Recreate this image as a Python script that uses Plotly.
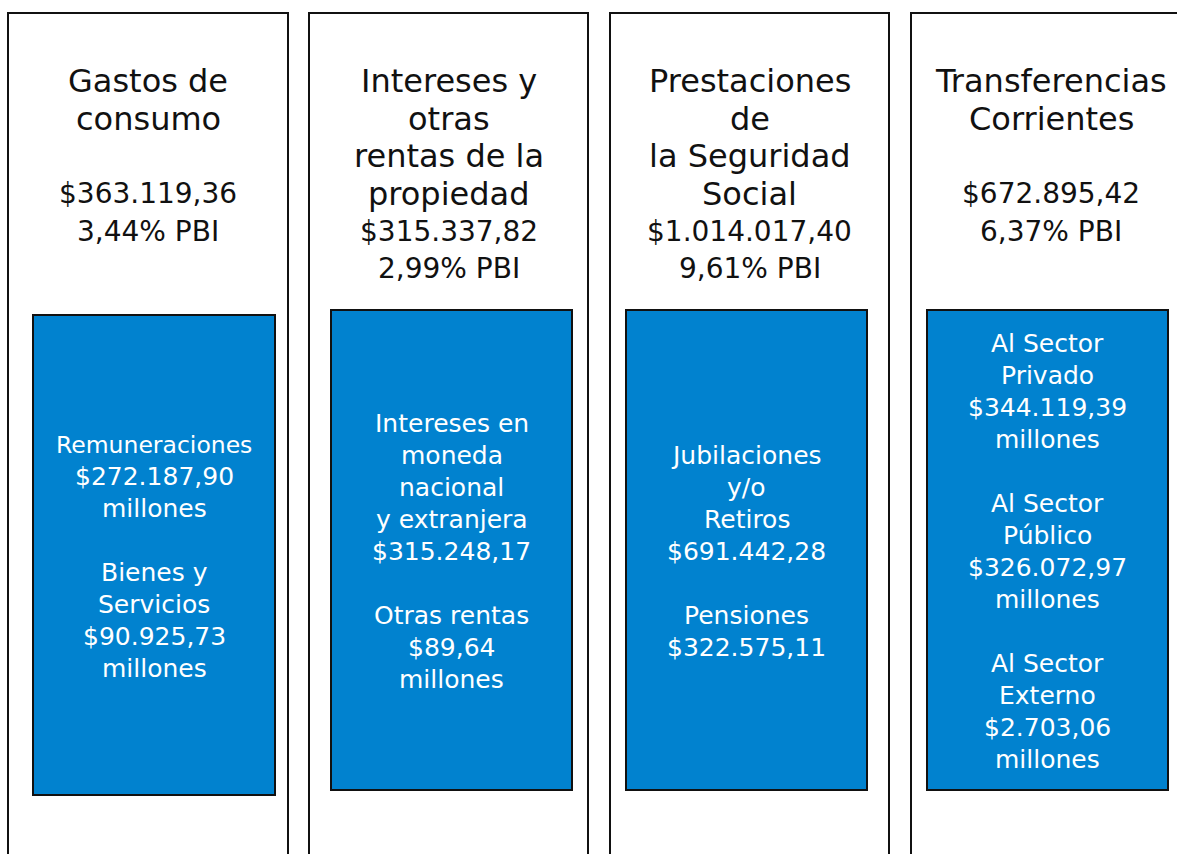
import plotly.graph_objects as go

# ---- data ----
title_lines = [
    ["Gastos de", "consumo", ""],
    ["Intereses y", "otras", "rentas de la", "propiedad"],
    ["Prestaciones", "de", "la Seguridad", "Social"],
    ["Transferencias", "Corrientes", ""],
]
totals = ["$363.119,36", "$315.337,82", "$1.014.017,40", "$672.895,42"]
pbi = ["3,44% PBI", "2,99% PBI", "9,61% PBI", "6,37% PBI"]
detail_lines = [
    ["Remuneraciones", "$272.187,90", "millones", "",
     "Bienes y", "Servicios", "$90.925,73", "millones"],
    ["Intereses en", "moneda", "nacional", "y extranjera", "$315.248,17", "",
     "Otras rentas", "$89,64", "millones"],
    ["Jubilaciones", "y/o", "Retiros", "$691.442,28", "",
     "Pensiones", "$322.575,11"],
    ["Al Sector", "Privado", "$344.119,39", "millones", "",
     "Al Sector", "Público", "$326.072,97", "millones", "",
     "Al Sector", "Externo", "$2.703,06", "millones"],
]

# ---- layout geometry (screen pixels) ----
outer = [(8, 288), (309, 588), (610, 889), (911, 1200)]
title_cx = [148, 448.5, 749.5, 1051]
inner = [(33, 275, 315, 795), (331, 572, 310, 790), (626, 867, 310, 790), (927, 1168, 310, 790)]

FONT = "DejaVu Sans"
TITLE_SIZE, NUM_SIZE, BODY_SIZE = 32, 28, 25
TITLE_TOP, TITLE_STEP = 81, 37.5
BODY_STEP = 32

fig = go.Figure()
shapes, annotations = [], []
for i in range(4):
    x0, x1 = outer[i]
    shapes.append(dict(type="rect", xref="x", yref="y", x0=x0, x1=x1, y0=13, y1=900,
                       line=dict(color="#111111", width=2), fillcolor="white", layer="below"))
    ix0, ix1, iy0, iy1 = inner[i]
    shapes.append(dict(type="rect", xref="x", yref="y", x0=ix0, x1=ix1, y0=iy0, y1=iy1,
                       line=dict(color="#111111", width=2), fillcolor="#0182CF", layer="below"))

    lines = [(t, TITLE_SIZE) for t in title_lines[i]] + [(totals[i], NUM_SIZE), (pbi[i], NUM_SIZE)]
    for k, (t, sz) in enumerate(lines):
        if not t:
            continue
        annotations.append(dict(x=title_cx[i], y=TITLE_TOP + k * TITLE_STEP, xref="x", yref="y",
                                text=t, showarrow=False, xanchor="center", yanchor="middle",
                                font=dict(family=FONT, size=sz, color="#111111")))

    dl = detail_lines[i]
    n = len(dl)
    cy = (iy0 + iy1) / 2 + 1.5
    for k, t in enumerate(dl):
        if not t:
            continue
        sz = 23.5 if t == "Remuneraciones" else BODY_SIZE
        annotations.append(dict(x=(ix0 + ix1) / 2, y=cy + (k - (n - 1) / 2) * BODY_STEP,
                                xref="x", yref="y", text=t, showarrow=False,
                                xanchor="center", yanchor="middle",
                                font=dict(family=FONT, size=sz, color="white")))

fig.update_layout(
    width=1177, height=854,
    margin=dict(l=0, r=0, t=0, b=0),
    paper_bgcolor="white", plot_bgcolor="white",
    xaxis=dict(range=[0, 1177], visible=False, fixedrange=True),
    yaxis=dict(range=[854, 0], visible=False, fixedrange=True),
    shapes=shapes, annotations=annotations, showlegend=False,
)
fig.write_html(
    "out.html",
    config={"displayModeBar": False, "staticPlot": True},
    post_script="document.body.style.margin='0';document.body.style.overflow='hidden';",
)
